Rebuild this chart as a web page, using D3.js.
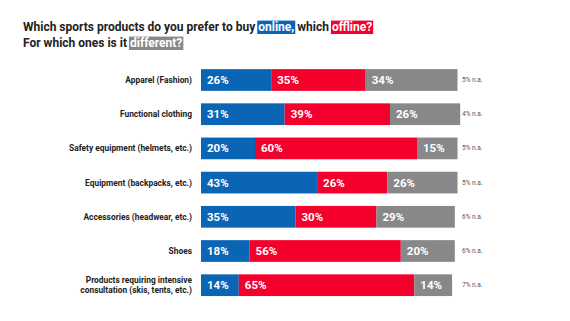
<!DOCTYPE html>
<html><head><meta charset="utf-8">
<script src="https://cdn.jsdelivr.net/npm/d3@7"></script>
<style>body{margin:0;background:#fff;}svg{display:block;font-family:Roboto,"Noto Sans",sans-serif;}text{white-space:pre;}</style>
</head><body><svg id="c" width="570" height="321"></svg>
<script>
const categories = ["Apparel (Fashion)","Functional clothing","Safety equipment (helmets, etc.)","Equipment (backpacks, etc.)","Accessories (headwear, etc.)","Shoes","Products requiring intensive\nconsultation (skis, tents, etc.)"];
const online = [26,31,20,43,35,18,14];
const offline = [35,39,60,26,30,56,65];
const different = [34,26,15,26,29,20,14];
const na = [5,4,5,5,6,6,7];
const seriesNames = ["online","offline","different"];
const colors = ["#0a66b5","#f4002c","#888888"];

const svg = d3.select("#c");
const x = d3.scaleLinear().domain([0,100]).range([201,471]);
const y = d3.scaleBand().domain(categories).range([62.9,302.3]).paddingInner(0.365).paddingOuter(0.1825);

const TF = 12.0;
const title = svg.append("g");
function measure(s){
  const t = title.append("text").attr("font-size",TF).attr("font-weight",700).attr("x",-999).text(s);
  const w = t.node().getComputedTextLength(); t.remove(); return w;
}
function titleLine(parts, yb){
  let cx = 23;
  const sp = measure("a b") - measure("ab");
  parts.forEach(p=>{
    const t = title.append("text").attr("x",cx).attr("y",yb).attr("font-size",TF).attr("font-weight",700)
      .attr("fill", p.bg ? "#fff" : "#222").text(p.t);
    const w = t.node().getComputedTextLength();
    if(p.bg){
      title.insert("rect","text").attr("x",cx-1).attr("y",yb-10.4).attr("width",w+2).attr("height",13.4).attr("fill",p.bg);
    }
    cx += w + (p.space ? sp : 0);
  });
}
titleLine([{t:"Which sports products do you prefer to buy",space:true},{t:"online,",bg:colors[0],space:true},{t:"which",space:true},{t:"offline?",bg:colors[1]}],31);
titleLine([{t:"For which ones is it",space:true},{t:"different?",bg:colors[2]}],47);

const data = categories.map((c,i)=>({c, vals:[online[i],offline[i],different[i]], na:na[i]}));
const rows = svg.append("g").selectAll("g").data(data).join("g");
rows.each(function(d){
  const g = d3.select(this);
  let acc = 0;
  d.vals.forEach((v,k)=>{
    g.append("rect").attr("x",x(acc)).attr("y",y(d.c)).attr("width",x(acc+v)-x(acc)).attr("height",y.bandwidth()).attr("fill",colors[k]);
    g.append("text").attr("x",x(acc)+6).attr("y",y(d.c)+y.bandwidth()/2+4).attr("fill","#fff")
      .attr("font-size",11.5).attr("font-weight",700).text(v+"%");
    acc += v;
  });
  g.append("text").attr("x",462).attr("y",y(d.c)+y.bandwidth()/2+2).attr("font-size",6.5).attr("fill","#555").text(d.na+"% n.a.");
  const lines = d.c.split("\n");
  const t = g.append("text").attr("text-anchor","end").attr("font-size",8.4).attr("font-weight",700).attr("fill","#222");
  lines.forEach((l,j)=>{
    t.append("tspan").attr("x",192).attr("y",y(d.c)+y.bandwidth()/2+3 + (j-(lines.length-1)/2)*10.5).text(l);
  });
});
</script></body></html>
